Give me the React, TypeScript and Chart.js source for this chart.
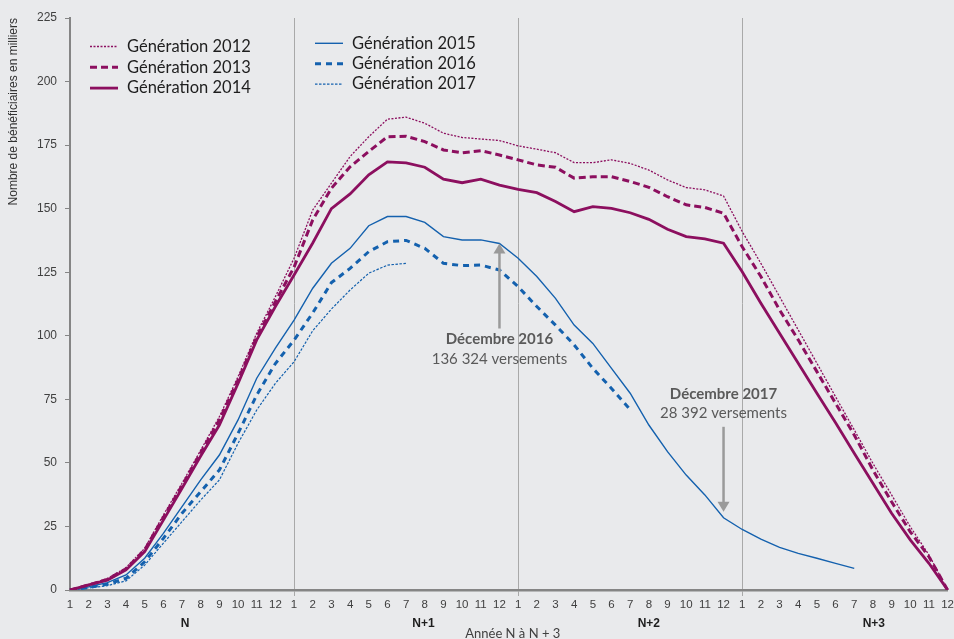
import React, { useEffect, useRef } from 'react';
import { Chart, registerables } from 'chart.js';

Chart.register(...registerables);

// ---- Data ----
const monthsOfYear = ['1', '2', '3', '4', '5', '6', '7', '8', '9', '10', '11', '12'];
const yearLabels = ['N', 'N+1', 'N+2', 'N+3'];
const categories = yearLabels.flatMap(() => monthsOfYear);

const gen2012 = [
  0, 2.2, 4.5, 8.8, 16.4, 29.5, 42, 55, 68.2, 83.9, 101, 115.4,
  130.5, 149.5, 160, 170.5, 178.3, 185.2, 186, 183.6, 179.7, 178, 177.4, 176.8,
  174.7, 173.4, 172, 168.1, 168.1, 169.2, 167.8, 165.2, 161.3, 158.3, 157.4, 155,
  141, 128.5, 115.4, 102.3, 89.2, 76, 63, 49.8, 37.4, 24.9, 13.8, 0,
];
const gen2013 = [
  0, 2, 4.2, 8.3, 15.8, 28.5, 41, 54, 66.9, 82.6, 99.5, 113.4,
  127, 145.6, 158, 166.5, 172.5, 178.3, 178.5, 176.4, 173.1, 172, 172.8, 171.1,
  169.2, 167.2, 166.3, 162, 162.6, 162.6, 160.7, 158.4, 154.7, 151.5, 150.5, 148.2,
  135, 123.3, 110.2, 98.4, 85.9, 73.4, 61, 47.2, 34.7, 22.9, 13.1, 0,
];
const gen2014 = [
  0, 2, 3.9, 7.9, 15.1, 27.5, 40, 52.7, 64.9, 81.3, 98.4, 111.5,
  123.9, 136.5, 150, 155.8, 163.3, 168.4, 168, 166.3, 161.6, 160.2, 161.6, 159.3,
  157.6, 156.3, 152.8, 148.8, 150.8, 150.1, 148.4, 145.8, 141.9, 139, 138.1, 136.4,
  125.2, 112.8, 101, 89.2, 77.4, 65.8, 53.8, 42, 30.2, 19.7, 10.5, 0,
];
const gen2015 = [
  0, 1.3, 2.9, 5.9, 12.5, 22.3, 32.8, 43.3, 53.1, 66.9, 83.3, 95.1,
  106.2, 118.7, 128.5, 134.4, 143.3, 146.9, 146.9, 144.6, 139, 137.7, 137.7, 136.3,
  130.5, 123.3, 114.7, 104.2, 97, 87.2, 77.4, 64.9, 54.4, 45.2, 37.4, 28.4,
  23.8, 20, 16.8, 14.4, 12.5, 10.5, 8.5, null, null, null, null, null,
];
const gen2016 = [
  0, 1, 2.3, 4.6, 11.1, 20.3, 30.2, 38.7, 47.2, 61.6, 76.7, 89.1,
  98.3, 109, 120.9, 126.5, 133.1, 137, 137.5, 134.4, 128.5, 127.6, 127.8, 125.9,
  119.3, 111.5, 104.2, 96.4, 87.2, 79.3, 71, null, null, null, null, null,
  null, null, null, null, null, null, null, null, null, null, null, null,
];
const gen2017 = [
  0, 0.8, 1.7, 3.6, 9.8, 18.4, 26.9, 35.4, 43.3, 57.7, 70.8, 81.3,
  89.8, 102, 110.5, 118, 124.6, 127.8, 128.5, null, null, null, null, null,
  null, null, null, null, null, null, null, null, null, null, null, null,
  null, null, null, null, null, null, null, null, null, null, null, null,
];

const seriesNames = [
  'Génération 2012', 'Génération 2013', 'Génération 2014',
  'Génération 2015', 'Génération 2016', 'Génération 2017',
];

const annotationIndex = [23, 35];
const annotationTitles = ['Décembre 2016', 'Décembre 2017'];
const annotationTexts = ['136 324 versements', '28 392 versements'];
const annotationBelow = [true, false];

const yAxisTitle = 'Nombre de bénéficiaires en milliers';
const xAxisTitle = 'Année N à N + 3';
const yearLabelPositions = [6.16, 18.93, 31.0, 43.05];

// ---- Styles ----
const PURPLE = '#8C0F5F';
const BLUE = '#1461AE';
const BG = '#E9EAEC';
const TEXT_FONT = 'Lato, "Open Sans", sans-serif';
const AXIS_FONT = '"Liberation Sans", Arial, sans-serif';

const backgroundPlugin = {
  id: 'bgFill',
  beforeDraw(chart: any) {
    const { ctx, width, height } = chart;
    ctx.save();
    ctx.fillStyle = BG;
    ctx.fillRect(0, 0, width, height);
    ctx.restore();
  },
};

const overlayPlugin = {
  id: 'overlay',
  afterDraw(chart: any) {
    const { ctx } = chart;
    const xs = chart.scales.x;
    const ys = chart.scales.y;

    // Legend (two columns of three)
    chart.data.datasets.forEach((d: any, i: number) => {
      const col = i < 3 ? 0 : 1;
      const row = i % 3;
      const x0 = col === 0 ? 90 : 315;
      const yy = col === 0 ? 46.5 + row * 20.8 : 43.3 + row * 20.4;
      ctx.save();
      ctx.strokeStyle = d.borderColor;
      ctx.lineWidth = d.borderWidth;
      ctx.setLineDash(d.borderDash || []);
      ctx.beginPath();
      ctx.moveTo(x0, yy);
      ctx.lineTo(x0 + 28, yy);
      ctx.stroke();
      ctx.setLineDash([]);
      ctx.fillStyle = '#1E1E1E';
      ctx.font = `16.5px ${TEXT_FONT}`;
      ctx.textBaseline = 'middle';
      ctx.textAlign = 'left';
      ctx.fillText(d.label, x0 + 37, yy);
      ctx.restore();
    });

    // Annotations with arrows
    annotationIndex.forEach((idx, k) => {
      const px = xs.getPixelForValue(idx);
      const py = ys.getPixelForValue(gen2015[idx] as number);
      const below = annotationBelow[k];
      const tip = below ? py : py - 6;
      const tail = below ? tip + 85 : tip - 85;
      const dir = below ? 1 : -1;
      ctx.save();
      ctx.strokeStyle = '#9A9A9A';
      ctx.fillStyle = '#9A9A9A';
      ctx.lineWidth = 2.5;
      ctx.beginPath();
      ctx.moveTo(px, tail);
      ctx.lineTo(px, tip + dir * 8);
      ctx.stroke();
      ctx.beginPath();
      ctx.moveTo(px, tip);
      ctx.lineTo(px - 6, tip + dir * 10);
      ctx.lineTo(px + 6, tip + dir * 10);
      ctx.closePath();
      ctx.fill();
      ctx.fillStyle = '#5A5A5A';
      ctx.textAlign = 'center';
      ctx.textBaseline = 'middle';
      const l1 = below ? tail + 11 : tail - 33;
      const l2 = below ? tail + 31 : tail - 14;
      ctx.font = `bold 15px ${TEXT_FONT}`;
      ctx.fillText(annotationTitles[k], px, l1);
      ctx.font = `15px ${TEXT_FONT}`;
      ctx.fillText(annotationTexts[k], px, l2);
      ctx.restore();
    });

    // Year labels under the months
    ctx.save();
    ctx.fillStyle = '#1E1E1E';
    ctx.font = `bold 12px ${AXIS_FONT}`;
    ctx.textAlign = 'center';
    ctx.textBaseline = 'middle';
    yearLabels.forEach((lab, k) => {
      ctx.fillText(lab, xs.getPixelForValue(yearLabelPositions[k]), 624);
    });
    // X-axis title (partly cut at the bottom edge)
    ctx.fillStyle = '#404040';
    ctx.font = `13px ${TEXT_FONT}`;
    ctx.textBaseline = 'alphabetic';
    ctx.fillText(xAxisTitle, (xs.left + xs.right) / 2 + 4, 638);
    ctx.restore();
  },
};

export default function App() {
  const canvasRef = useRef<HTMLCanvasElement | null>(null);

  useEffect(() => {
    document.body.style.margin = '0';
    document.body.style.background = BG;
    document.body.style.overflow = 'hidden';
    const canvas = canvasRef.current;
    if (!canvas) return;

    const datasets = [
      { label: seriesNames[0], data: gen2012, borderColor: PURPLE, borderWidth: 1.3, borderDash: [2, 1.5] },
      { label: seriesNames[1], data: gen2013, borderColor: PURPLE, borderWidth: 3, borderDash: [7, 4] },
      { label: seriesNames[2], data: gen2014, borderColor: PURPLE, borderWidth: 2.8, borderDash: [] },
      { label: seriesNames[3], data: gen2015, borderColor: BLUE, borderWidth: 1.4, borderDash: [] },
      { label: seriesNames[4], data: gen2016, borderColor: BLUE, borderWidth: 3, borderDash: [6, 5] },
      { label: seriesNames[5], data: gen2017, borderColor: BLUE, borderWidth: 1.2, borderDash: [2.5, 1.5] },
    ].map((d) => ({
      ...d,
      backgroundColor: d.borderColor,
      pointRadius: 0,
      pointHoverRadius: 0,
      tension: 0,
      fill: false,
      spanGaps: false,
    }));

    const chart = new Chart(canvas, {
      type: 'line',
      data: { labels: categories, datasets },
      options: {
        animation: false,
        responsive: true,
        maintainAspectRatio: false,
        layout: { padding: { top: 18, right: 7, left: 0, bottom: 0 } },
        plugins: {
          legend: { display: false },
          tooltip: { enabled: false },
        },
        scales: {
          x: {
            type: 'category',
            offset: false,
            afterFit(scale: any) {
              scale.height = 49;
            },
            grid: {
              display: true,
              drawOnChartArea: true,
              drawTicks: true,
              tickLength: 6,
              lineWidth: 1,
              color: (c: any) => ([12, 24, 36].includes(c.index) ? '#A9A9A9' : 'rgba(0,0,0,0)'),
            },
            border: { display: true, color: '#858585', width: 2.5 },
            ticks: {
              autoSkip: false,
              maxRotation: 0,
              minRotation: 0,
              padding: 2,
              color: '#404040',
              font: { family: AXIS_FONT, size: 11.5 },
            },
          },
          y: {
            min: 0,
            max: 225,
            afterFit(scale: any) {
              scale.width = 70;
            },
            grid: {
              display: true,
              drawOnChartArea: false,
              drawTicks: true,
              tickLength: 5,
              color: '#858585',
            },
            border: { display: true, color: '#858585', width: 2 },
            ticks: {
              stepSize: 25,
              padding: 8,
              color: '#404040',
              font: { family: AXIS_FONT, size: 12 },
            },
            title: {
              display: true,
              text: yAxisTitle,
              align: 'end',
              color: '#333333',
              font: { family: AXIS_FONT, size: 12 },
              padding: { top: 6, bottom: 0 },
            },
          },
        },
      },
      plugins: [backgroundPlugin, overlayPlugin],
    } as any);

    return () => chart.destroy();
  }, []);

  return (
    <div style={{ position: 'fixed', left: 0, top: 0, width: 956, height: 639, background: BG }}>
      <canvas ref={canvasRef} />
    </div>
  );
}
